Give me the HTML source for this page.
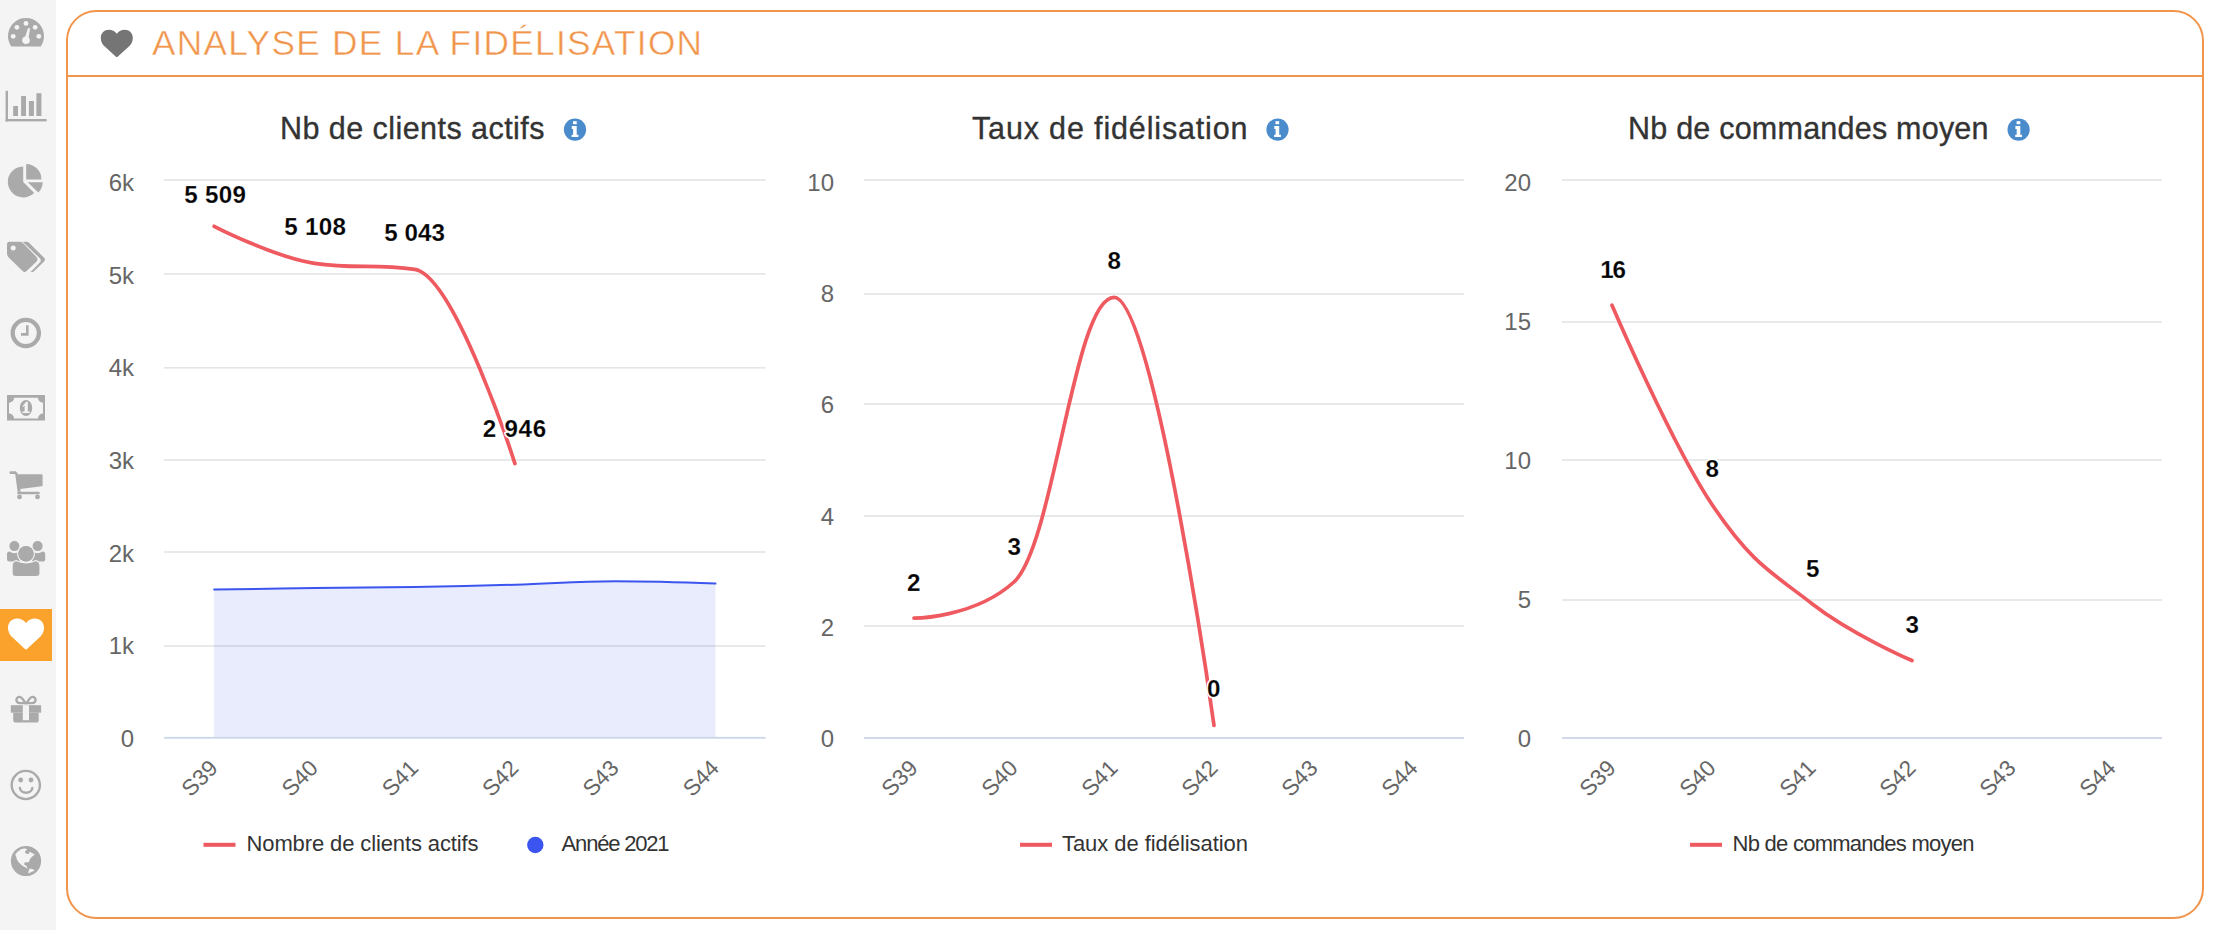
<!DOCTYPE html>
<html><head><meta charset="utf-8"><title>Analyse de la fidélisation</title>
<style>
html,body{margin:0;padding:0;background:#ffffff;width:2214px;height:930px;overflow:hidden;}
svg{display:block;font-family:"Liberation Sans",sans-serif;}
</style></head><body>
<svg width="2214" height="930" viewBox="0 0 2214 930">
<rect x="0" y="0" width="56" height="930" fill="#f4f4f4"/>
<g fill="#aaaaaa">
      <path d="M12.3 46.6 Q11.4 46.6 10.9 45.9 A18 18 0 1 1 41.1 45.9 Q40.6 46.6 39.7 46.6 Z"/>
    </g>
    <g fill="#f4f4f4">
      <circle cx="26" cy="23.4" r="2.4"/><circle cx="16.9" cy="27.3" r="2.4"/><circle cx="35.1" cy="27.3" r="2.4"/>
      <circle cx="13.2" cy="36.3" r="2.4"/><circle cx="38.8" cy="36.3" r="2.4"/>
      <circle cx="26" cy="40.2" r="3.8"/>
      <path d="M24.6 38.5 L28 28.2 Q29.4 27.6 30 28.6 L28.3 39.2 Z"/>
    </g>
<g fill="#aaaaaa">
      <rect x="5.6" y="90.8" width="2.4" height="30.6"/>
      <rect x="5.6" y="119" width="41" height="2.4"/>
      <rect x="13.2" y="106" width="4.8" height="10"/>
      <rect x="21.1" y="96" width="4.9" height="20"/>
      <rect x="28.9" y="101" width="5" height="15"/>
      <rect x="36.4" y="93.2" width="5" height="22.8"/>
    </g>
<g fill="#aaaaaa">
      <path d="M23.2 166.4 L23.2 181.9 L34.2 192.9 A15.5 15.5 0 1 1 23.2 166.4 Z"/>
      <path d="M26.2 163.9 L26.2 179.5 L41.4 179.5 A15.5 15.5 0 0 0 26.2 163.9 Z"/>
      <path d="M27.7 182.2 L42.8 182.2 A15.5 15.5 0 0 1 38.3 192.6 Z"/>
    </g>
<g fill="#aaaaaa">
      <path d="M9.5 241.7 L20 241.7 Q21.5 241.7 22.6 242.8 L36.6 257 Q38.4 259.4 36.6 261.6 L26.6 271 Q24.6 272.8 22.6 271 L8.9 257.8 Q7 256 7 253.3 L7 244.2 Q7 241.7 9.5 241.7 Z"/>
      <path d="M22.6 241.7 H26.6 Q28 241.7 29 242.7 L44.3 258 Q45.6 259.6 44.3 261.2 L34 271.2 Q32.8 272.2 31.2 272.1 L30.6 272 L40.05 262.3 Q41.6 260.5 40.05 258.6 Z"/>
    </g>
    <circle cx="13.2" cy="248.1" r="2.5" fill="#f4f4f4"/>
<circle cx="25.8" cy="333" r="13.1" fill="none" stroke="#aaaaaa" stroke-width="4.3"/>
    <path d="M27.3 325.2 V334.4 H21" fill="none" stroke="#aaaaaa" stroke-width="2.6"/>
<path fill="#aaaaaa" fill-rule="evenodd" d="M7.6 395.1 H44.4 Q45 395.1 45 395.7 V420 Q45 420.6 44.4 420.6 H7.6 Q7 420.6 7 420 V395.7 Q7 395.1 7.6 395.1 Z
      M14 397.8 H38 A5 5 0 0 0 43 402.8 V413.5 A5 5 0 0 0 38 418.5 H14 A5 5 0 0 0 9 413.5 V402.8 A5 5 0 0 0 14 397.8 Z"/>
    <ellipse cx="26" cy="408" rx="6.2" ry="8" fill="#aaaaaa"/>
    <path fill="#f4f4f4" d="M22.5 406.2 L26.2 401.8 H27.8 V411.6 H29.8 V413.1 H22.3 V411.6 H24.6 V405.6 L23.4 407 Z"/>
<g fill="#aaaaaa">
      <rect x="9.5" y="471.3" width="7" height="2.6" rx="1.2"/>
      <path d="M15 472.6 L17.4 472.6 L17.7 474.2 H41.3 Q42.6 474.2 42.6 475.5 V484.9 Q42.6 486 41.5 486.2 L20.2 488.9 L20.7 491.8 H17.6 Z"/>
      <rect x="17.2" y="491.8" width="22.6" height="2.5" rx="1.2"/>
      <circle cx="19.5" cy="496.9" r="2.4"/><circle cx="37.5" cy="496.9" r="2.4"/>
    </g>
<g fill="#aaaaaa">
      <circle cx="14.4" cy="546.1" r="5.0"/><circle cx="37.6" cy="546.1" r="5.0"/>
      <path d="M9.6 551.6 Q11.8 553.2 14.4 553.2 Q17 553.2 19.2 551.6 L20.5 561.6 H9.4 Q7 561.6 7 559.2 V554.2 Q7 551.6 9.6 551.6 Z"/>
      <path d="M42.4 551.6 Q40.2 553.2 37.6 553.2 Q35 553.2 32.8 551.6 L31.5 561.6 H42.6 Q45.2 561.6 45.2 559.2 V554.2 Q45.2 551.6 42.6 551.6 Z"/>
      <path d="M16.2 560.6 Q20.5 562.9 26 562.9 Q31.5 562.9 35.8 560.6 Q40 561.2 40 566.3 V573 Q40 576.6 36.4 576.6 H15.7 Q12.1 576.6 12.1 573 V566.3 Q12.1 561.2 16.2 560.6 Z"/>
    </g>
    <circle cx="26" cy="553.8" r="9.0" fill="#f4f4f4"/>
    <circle cx="26" cy="553.8" r="7.6" fill="#aaaaaa"/>
    <path d="M16.2 560.6 Q20.5 562.9 26 562.9 Q31.5 562.9 35.8 560.6 Q40 561.2 40 566.3 V573 Q40 576.6 36.4 576.6 H15.7 Q12.1 576.6 12.1 573 V566.3 Q12.1 561.2 16.2 560.6 Z" fill="#aaaaaa" stroke="#f4f4f4" stroke-width="1.1"/>
    <circle cx="26" cy="553.8" r="7.7" fill="#aaaaaa"/>
<rect x="0" y="609" width="52" height="52" fill="#faa22b"/>
<path transform="translate(8.00 618.40) scale(36 31.3)" fill="#ffffff" d="M0.5 0.144 C0.44 0.05 0.35 0 0.256 0 C0.11 0 0 0.12 0 0.295 C0 0.4 0.04 0.5 0.09 0.568 L0.465 0.97 Q0.5 1.01 0.535 0.97 L0.91 0.568 C0.96 0.5 1 0.4 1 0.295 C1 0.12 0.89 0 0.744 0 C0.65 0 0.56 0.05 0.5 0.144 Z"/>
<g fill="#aaaaaa">
      <rect x="10.8" y="705.2" width="30.3" height="7.5"/>
      <path d="M13.2 712.7 H38.7 V720 Q38.7 722.6 36.1 722.6 H15.8 Q13.2 722.6 13.2 720 Z"/>
    </g>
    <rect x="22.8" y="705.2" width="6.2" height="15" fill="#f4f4f4"/>
    <g fill="none" stroke="#aaaaaa" stroke-width="2.3">
      <path d="M25.5 703.2 L23 699.5 Q21 696.5 18.5 697 Q16 698 16.5 700.7 Q17.3 703.2 20 703.2 Z"/>
      <path d="M26.5 703.2 L29 699.5 Q31 696.5 33.5 697 Q36 698 35.5 700.7 Q34.7 703.2 32 703.2 Z"/>
    </g>
<circle cx="25.8" cy="785" r="14.1" fill="none" stroke="#aaaaaa" stroke-width="2.4"/>
    <circle cx="20.7" cy="780" r="2.4" fill="#aaaaaa"/><circle cx="31" cy="780" r="2.4" fill="#aaaaaa"/>
    <path d="M19.9 788 A6.2 4.8 0 0 0 32.3 788" fill="none" stroke="#aaaaaa" stroke-width="2.4" stroke-linecap="round"/>
<circle cx="26" cy="861" r="15.1" fill="#aaaaaa"/>
    <path fill="#f4f4f4" d="M15.2 854.5 L17.2 851.9 L21.4 849.1 L24.5 848.6 L27.2 849.1 L24.8 851.9 L25.5 853.3 L28.6 854.3 L29.3 851.9 L30.6 852.2 L34.8 854.6 L32 856.7 L30 859.1 L28.8 862.2 L26.5 862.2 L24.5 862.5 L24.1 864.6 L26.2 865.6 L27.9 868.7 L22 865.6 L18.6 862.2 L16.9 859.5 L16.2 856.7 Z"/>
    <path fill="#f4f4f4" d="M29.6 868.4 L32.4 869.1 L34.8 870.5 L28.2 873.6 L28.6 871.2 Z"/>
<rect x="67" y="11" width="2136" height="907" rx="29.5" ry="29.5" fill="#ffffff" stroke="#f0954b" stroke-width="2"/>
<rect x="67" y="75" width="2136" height="2" fill="#f0954b"/>
<path transform="translate(100.80 29.80) scale(32 27.5)" fill="#757575" d="M0.5 0.144 C0.44 0.05 0.35 0 0.256 0 C0.11 0 0 0.12 0 0.295 C0 0.4 0.04 0.5 0.09 0.568 L0.465 0.97 Q0.5 1.01 0.535 0.97 L0.91 0.568 C0.96 0.5 1 0.4 1 0.295 C1 0.12 0.89 0 0.744 0 C0.65 0 0.56 0.05 0.5 0.144 Z"/>
<text x="152" y="55" font-size="35.2" fill="#f0954b" stroke="#fff" stroke-width="0.45" textLength="550" lengthAdjust="spacing">ANALYSE DE LA FIDÉLISATION</text>
<text x="134" y="746.90" font-size="24" fill="#666666" text-anchor="end">0</text>
<rect x="164.0" y="645.15" width="601.6" height="1.7" fill="#e6e6e6"/>
<text x="134" y="654.23" font-size="24" fill="#666666" text-anchor="end">1k</text>
<rect x="164.0" y="551.15" width="601.6" height="1.7" fill="#e6e6e6"/>
<text x="134" y="561.57" font-size="24" fill="#666666" text-anchor="end">2k</text>
<rect x="164.0" y="459.15" width="601.6" height="1.7" fill="#e6e6e6"/>
<text x="134" y="468.90" font-size="24" fill="#666666" text-anchor="end">3k</text>
<rect x="164.0" y="366.95" width="601.6" height="1.7" fill="#e6e6e6"/>
<text x="134" y="376.23" font-size="24" fill="#666666" text-anchor="end">4k</text>
<rect x="164.0" y="273.05" width="601.6" height="1.7" fill="#e6e6e6"/>
<text x="134" y="283.57" font-size="24" fill="#666666" text-anchor="end">5k</text>
<rect x="164.0" y="179.15" width="601.6" height="1.7" fill="#e6e6e6"/>
<text x="134" y="190.90" font-size="24" fill="#666666" text-anchor="end">6k</text>
<path d="M214.13 589.50 C214.13 589.50 274.29 588.62 314.40 588.10 C354.51 587.58 374.56 587.58 414.67 586.90 C454.77 586.22 474.83 585.84 514.93 584.70 C555.04 583.56 575.09 581.20 615.20 581.20 C655.31 581.20 715.47 583.60 715.47 583.60 L715.47 738 L214.13 738 Z" fill="#3d55f0" fill-opacity="0.112"/>
<path d="M214.13 589.50 C214.13 589.50 274.29 588.62 314.40 588.10 C354.51 587.58 374.56 587.58 414.67 586.90 C454.77 586.22 474.83 585.84 514.93 584.70 C555.04 583.56 575.09 581.20 615.20 581.20 C655.31 581.20 715.47 583.60 715.47 583.60" fill="none" stroke="#3b55ee" stroke-width="2" stroke-linecap="round"/>
<path d="M214.13 226.30 C214.13 226.30 274.29 257.20 314.40 263.30 C354.51 269.40 374.56 263.30 414.67 269.40 C454.77 275.50 514.93 463.60 514.93 463.60" fill="none" stroke="#ef5a60" stroke-width="3.7" stroke-linecap="round" stroke-linejoin="round"/>
<rect x="164.0" y="736.90" width="601.6" height="1.8" fill="#ccd6eb"/>
<text transform="translate(219.13 769.5) rotate(-45)" font-size="22.5" fill="#666666" text-anchor="end">S39</text>
<text transform="translate(319.40 769.5) rotate(-45)" font-size="22.5" fill="#666666" text-anchor="end">S40</text>
<text transform="translate(419.67 769.5) rotate(-45)" font-size="22.5" fill="#666666" text-anchor="end">S41</text>
<text transform="translate(519.93 769.5) rotate(-45)" font-size="22.5" fill="#666666" text-anchor="end">S42</text>
<text transform="translate(620.20 769.5) rotate(-45)" font-size="22.5" fill="#666666" text-anchor="end">S43</text>
<text transform="translate(720.47 769.5) rotate(-45)" font-size="22.5" fill="#666666" text-anchor="end">S44</text>
<text x="184.15" y="203.00" font-size="24.2" font-weight="bold" textLength="61.90" lengthAdjust="spacing" fill="#fff" stroke="#fff" stroke-width="3" stroke-linejoin="round">5 509</text><text x="184.15" y="203.00" font-size="24.2" font-weight="bold" textLength="61.90" lengthAdjust="spacing" fill="#000" stroke="#fff" stroke-opacity="0.22" stroke-width="1">5 509</text>
<text x="284.20" y="234.90" font-size="24.2" font-weight="bold" textLength="61.80" lengthAdjust="spacing" fill="#fff" stroke="#fff" stroke-width="3" stroke-linejoin="round">5 108</text><text x="284.20" y="234.90" font-size="24.2" font-weight="bold" textLength="61.80" lengthAdjust="spacing" fill="#000" stroke="#fff" stroke-opacity="0.22" stroke-width="1">5 108</text>
<text x="384.15" y="241.10" font-size="24.2" font-weight="bold" textLength="60.90" lengthAdjust="spacing" fill="#fff" stroke="#fff" stroke-width="3" stroke-linejoin="round">5 043</text><text x="384.15" y="241.10" font-size="24.2" font-weight="bold" textLength="60.90" lengthAdjust="spacing" fill="#000" stroke="#fff" stroke-opacity="0.22" stroke-width="1">5 043</text>
<text x="482.85" y="437.20" font-size="24.2" font-weight="bold" textLength="63.30" lengthAdjust="spacing" fill="#fff" stroke="#fff" stroke-width="3" stroke-linejoin="round">2 946</text><text x="482.85" y="437.20" font-size="24.2" font-weight="bold" textLength="63.30" lengthAdjust="spacing" fill="#000" stroke="#fff" stroke-opacity="0.22" stroke-width="1">2 946</text>
<text x="280" y="139" font-size="30.5" fill="#333333" stroke="#333333" stroke-width="0.35" textLength="264.5" lengthAdjust="spacing">Nb de clients actifs</text>
<circle cx="575" cy="129.6" r="11.1" fill="#4a8bcb"/><g fill="#fff"><rect x="573.00" y="121.20" width="3.7" height="3"/><path d="M571.80 126.10 H576.70 V134.70 H578.40 V137.10 H571.60 V134.70 H573.10 V129.10 H571.80 Z"/></g>
<rect x="203.5" y="842.8" width="32" height="4" fill="#ef5a60"/><text x="246.5" y="850.7" font-size="22" fill="#333333" textLength="232" lengthAdjust="spacing">Nombre de clients actifs</text><circle cx="535.3" cy="845" r="8.2" fill="#3d55f0"/><text x="561.6" y="850.7" font-size="22" fill="#333333" textLength="108" lengthAdjust="spacing">Année 2021</text>
<text x="834" y="746.90" font-size="24" fill="#666666" text-anchor="end">0</text>
<rect x="864.0" y="625.15" width="600.0" height="1.7" fill="#e6e6e6"/>
<text x="834" y="635.70" font-size="24" fill="#666666" text-anchor="end">2</text>
<rect x="864.0" y="515.15" width="600.0" height="1.7" fill="#e6e6e6"/>
<text x="834" y="524.50" font-size="24" fill="#666666" text-anchor="end">4</text>
<rect x="864.0" y="403.15" width="600.0" height="1.7" fill="#e6e6e6"/>
<text x="834" y="413.30" font-size="24" fill="#666666" text-anchor="end">6</text>
<rect x="864.0" y="293.15" width="600.0" height="1.7" fill="#e6e6e6"/>
<text x="834" y="302.10" font-size="24" fill="#666666" text-anchor="end">8</text>
<rect x="864.0" y="179.15" width="600.0" height="1.7" fill="#e6e6e6"/>
<text x="834" y="190.90" font-size="24" fill="#666666" text-anchor="end">10</text>
<path d="M914.00 618.10 C914.00 618.10 974.00 618.10 1014.00 582.00 C1054.00 545.90 1074.00 297.30 1114.00 297.30 C1154.00 297.30 1214.00 725.40 1214.00 725.40" fill="none" stroke="#ef5a60" stroke-width="3.7" stroke-linecap="round" stroke-linejoin="round"/>
<rect x="864.0" y="737.10" width="600.0" height="1.8" fill="#ccd6eb"/>
<text transform="translate(919.00 769.5) rotate(-45)" font-size="22.5" fill="#666666" text-anchor="end">S39</text>
<text transform="translate(1019.00 769.5) rotate(-45)" font-size="22.5" fill="#666666" text-anchor="end">S40</text>
<text transform="translate(1119.00 769.5) rotate(-45)" font-size="22.5" fill="#666666" text-anchor="end">S41</text>
<text transform="translate(1219.00 769.5) rotate(-45)" font-size="22.5" fill="#666666" text-anchor="end">S42</text>
<text transform="translate(1319.00 769.5) rotate(-45)" font-size="22.5" fill="#666666" text-anchor="end">S43</text>
<text transform="translate(1419.00 769.5) rotate(-45)" font-size="22.5" fill="#666666" text-anchor="end">S44</text>
<text x="906.90" y="590.90" font-size="24.2" font-weight="bold" textLength="12.20" lengthAdjust="spacing" fill="#fff" stroke="#fff" stroke-width="3" stroke-linejoin="round">2</text><text x="906.90" y="590.90" font-size="24.2" font-weight="bold" textLength="12.20" lengthAdjust="spacing" fill="#000" stroke="#fff" stroke-opacity="0.22" stroke-width="1">2</text>
<text x="1007.40" y="554.70" font-size="24.2" font-weight="bold" textLength="11.60" lengthAdjust="spacing" fill="#fff" stroke="#fff" stroke-width="3" stroke-linejoin="round">3</text><text x="1007.40" y="554.70" font-size="24.2" font-weight="bold" textLength="11.60" lengthAdjust="spacing" fill="#000" stroke="#fff" stroke-opacity="0.22" stroke-width="1">3</text>
<text x="1107.45" y="268.90" font-size="24.2" font-weight="bold" textLength="12.10" lengthAdjust="spacing" fill="#fff" stroke="#fff" stroke-width="3" stroke-linejoin="round">8</text><text x="1107.45" y="268.90" font-size="24.2" font-weight="bold" textLength="12.10" lengthAdjust="spacing" fill="#000" stroke="#fff" stroke-opacity="0.22" stroke-width="1">8</text>
<text x="1207.00" y="696.90" font-size="24.2" font-weight="bold" textLength="12.80" lengthAdjust="spacing" fill="#fff" stroke="#fff" stroke-width="3" stroke-linejoin="round">0</text><text x="1207.00" y="696.90" font-size="24.2" font-weight="bold" textLength="12.80" lengthAdjust="spacing" fill="#000" stroke="#fff" stroke-opacity="0.22" stroke-width="1">0</text>
<text x="972" y="139" font-size="30.5" fill="#333333" stroke="#333333" stroke-width="0.35" textLength="275.5" lengthAdjust="spacing">Taux de fidélisation</text>
<circle cx="1277.5" cy="129.6" r="11.1" fill="#4a8bcb"/><g fill="#fff"><rect x="1275.50" y="121.20" width="3.7" height="3"/><path d="M1274.30 126.10 H1279.20 V134.70 H1280.90 V137.10 H1274.10 V134.70 H1275.60 V129.10 H1274.30 Z"/></g>
<rect x="1020" y="842.8" width="32" height="4" fill="#ef5a60"/><text x="1062" y="850.8" font-size="22" fill="#333333" textLength="186" lengthAdjust="spacing">Taux de fidélisation</text>
<text x="1531" y="746.90" font-size="24" fill="#666666" text-anchor="end">0</text>
<rect x="1562.0" y="599.15" width="600.0" height="1.7" fill="#e6e6e6"/>
<text x="1531" y="607.90" font-size="24" fill="#666666" text-anchor="end">5</text>
<rect x="1562.0" y="459.15" width="600.0" height="1.7" fill="#e6e6e6"/>
<text x="1531" y="468.90" font-size="24" fill="#666666" text-anchor="end">10</text>
<rect x="1562.0" y="321.15" width="600.0" height="1.7" fill="#e6e6e6"/>
<text x="1531" y="329.90" font-size="24" fill="#666666" text-anchor="end">15</text>
<rect x="1562.0" y="179.15" width="600.0" height="1.7" fill="#e6e6e6"/>
<text x="1531" y="190.90" font-size="24" fill="#666666" text-anchor="end">20</text>
<path d="M1612.00 305.20 C1612.00 305.20 1672.00 444.80 1712.00 504.50 C1752.00 564.20 1772.00 572.50 1812.00 603.70 C1852.00 634.90 1912.00 660.50 1912.00 660.50" fill="none" stroke="#ef5a60" stroke-width="3.7" stroke-linecap="round" stroke-linejoin="round"/>
<rect x="1562.0" y="737.10" width="600.0" height="1.8" fill="#ccd6eb"/>
<text transform="translate(1617.00 769.5) rotate(-45)" font-size="22.5" fill="#666666" text-anchor="end">S39</text>
<text transform="translate(1717.00 769.5) rotate(-45)" font-size="22.5" fill="#666666" text-anchor="end">S40</text>
<text transform="translate(1817.00 769.5) rotate(-45)" font-size="22.5" fill="#666666" text-anchor="end">S41</text>
<text transform="translate(1917.00 769.5) rotate(-45)" font-size="22.5" fill="#666666" text-anchor="end">S42</text>
<text transform="translate(2017.00 769.5) rotate(-45)" font-size="22.5" fill="#666666" text-anchor="end">S43</text>
<text transform="translate(2117.00 769.5) rotate(-45)" font-size="22.5" fill="#666666" text-anchor="end">S44</text>
<text x="1600.30" y="277.50" font-size="24.2" font-weight="bold" textLength="25.60" lengthAdjust="spacing" fill="#fff" stroke="#fff" stroke-width="3" stroke-linejoin="round">16</text><text x="1600.30" y="277.50" font-size="24.2" font-weight="bold" textLength="25.60" lengthAdjust="spacing" fill="#000" stroke="#fff" stroke-opacity="0.22" stroke-width="1">16</text>
<text x="1705.40" y="476.90" font-size="24.2" font-weight="bold" textLength="12.60" lengthAdjust="spacing" fill="#fff" stroke="#fff" stroke-width="3" stroke-linejoin="round">8</text><text x="1705.40" y="476.90" font-size="24.2" font-weight="bold" textLength="12.60" lengthAdjust="spacing" fill="#000" stroke="#fff" stroke-opacity="0.22" stroke-width="1">8</text>
<text x="1806.00" y="576.90" font-size="24.2" font-weight="bold" textLength="11.00" lengthAdjust="spacing" fill="#fff" stroke="#fff" stroke-width="3" stroke-linejoin="round">5</text><text x="1806.00" y="576.90" font-size="24.2" font-weight="bold" textLength="11.00" lengthAdjust="spacing" fill="#000" stroke="#fff" stroke-opacity="0.22" stroke-width="1">5</text>
<text x="1905.55" y="633.30" font-size="24.2" font-weight="bold" textLength="11.30" lengthAdjust="spacing" fill="#fff" stroke="#fff" stroke-width="3" stroke-linejoin="round">3</text><text x="1905.55" y="633.30" font-size="24.2" font-weight="bold" textLength="11.30" lengthAdjust="spacing" fill="#000" stroke="#fff" stroke-opacity="0.22" stroke-width="1">3</text>
<text x="1628" y="139" font-size="30.5" fill="#333333" stroke="#333333" stroke-width="0.35" textLength="360.5" lengthAdjust="spacing">Nb de commandes moyen</text>
<circle cx="2018.6" cy="129.6" r="11.1" fill="#4a8bcb"/><g fill="#fff"><rect x="2016.60" y="121.20" width="3.7" height="3"/><path d="M2015.40 126.10 H2020.30 V134.70 H2022.00 V137.10 H2015.20 V134.70 H2016.70 V129.10 H2015.40 Z"/></g>
<rect x="1690" y="842.8" width="32" height="4" fill="#ef5a60"/><text x="1732.5" y="850.8" font-size="22" fill="#333333" textLength="242" lengthAdjust="spacing">Nb de commandes moyen</text>
</svg>
</body></html>
